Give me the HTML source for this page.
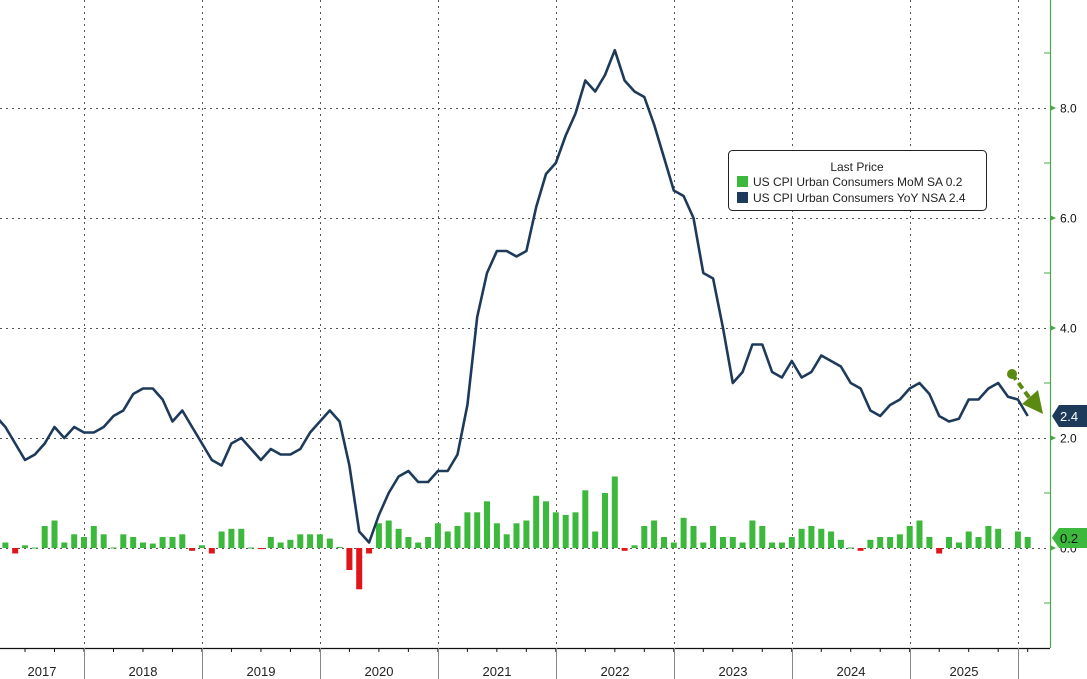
<!DOCTYPE html>
<html><head><meta charset="utf-8"><style>
html,body{margin:0;padding:0;background:#fff;}
svg{display:block;font-family:"Liberation Sans",sans-serif;}
</style></head><body>
<svg id="c" width="1087" height="679" viewBox="0 0 1087 679" xmlns="http://www.w3.org/2000/svg">
<rect width="1087" height="679" fill="#fff"/>
<g id="grid" stroke="#555" stroke-width="1" stroke-dasharray="2,4"></g>
<g id="bars"></g>
<g id="axes"></g>
<polyline id="line" fill="none" stroke="#1e3a5a" stroke-width="2.6" stroke-linejoin="round"/>
<!-- legend -->
<rect x="728.5" y="150.5" width="258" height="60" rx="4" fill="#fff" stroke="#222"/>
<text x="857" y="171" font-size="12" text-anchor="middle" fill="#222">Last Price</text>
<rect x="737" y="176" width="11" height="11" fill="#3cb83c"/>
<text x="753" y="186" font-size="12" fill="#222">US CPI Urban Consumers MoM SA  0.2</text>
<rect x="737" y="192" width="11" height="11" fill="#1e3a5a"/>
<text x="753" y="202" font-size="12" fill="#222">US CPI Urban Consumers YoY NSA 2.4</text>
<!-- annotation arrow -->
<line x1="1012" y1="374" x2="1031" y2="400" stroke="#5b8a12" stroke-width="4" stroke-dasharray="7,4"/>
<circle cx="1012" cy="374" r="5" fill="#5b8a12"/>
<polygon points="1022,404 1038,390 1043,414" fill="#5b8a12"/>
<!-- value tags -->
<polygon points="1052,416 1059,405 1087,405 1087,427 1059,427" fill="#1e3a5a"/>
<text x="1060" y="421" font-size="13" fill="#fff">2.4</text>
<polygon points="1052,538 1059,528 1087,528 1087,548 1059,548" fill="#3cb83c"/>
<text x="1060" y="543" font-size="13" fill="#111">0.2</text>
</svg>
<script>
const NS="http://www.w3.org/2000/svg";
function el(p,t,a,txt){const e=document.createElementNS(NS,t);for(const k in a)e.setAttribute(k,a[k]);if(txt!==undefined)e.textContent=txt;p.appendChild(e);return e;}
const Y=v=>548-v*55, X=k=>84+(k-11)*9.83;
const grid=document.getElementById('grid'),axes=document.getElementById('axes'),bars=document.getElementById('bars');
[8,6,4,2,0].forEach(v=>el(grid,'line',{x1:0,x2:1048,y1:Y(v)+.5,y2:Y(v)+.5}));
const div=[84,202,320,438,556,674,792,910,1018];
div.forEach(x=>el(grid,'line',{x1:x+.5,x2:x+.5,y1:0,y2:647}));
// yoy
const yoy=[2.5,2.7,2.4,2.2,1.9,1.6,1.7,1.9,2.2,2.0,2.2,2.1,
2.1,2.2,2.4,2.5,2.8,2.9,2.9,2.7,2.3,2.5,2.2,1.9,
1.6,1.5,1.9,2.0,1.8,1.6,1.8,1.7,1.7,1.8,2.1,2.3,
2.5,2.3,1.5,0.3,0.1,0.6,1.0,1.3,1.4,1.2,1.2,1.4,
1.4,1.7,2.6,4.2,5.0,5.4,5.4,5.3,5.4,6.2,6.8,7.0,
7.5,7.9,8.5,8.3,8.6,9.05,8.5,8.3,8.2,7.7,7.1,6.5,
6.4,6.0,5.0,4.9,4.0,3.0,3.2,3.7,3.7,3.2,3.1,3.4,
3.1,3.2,3.5,3.4,3.3,3.0,2.9,2.5,2.4,2.6,2.7,2.9,
3.0,2.8,2.4,2.3,2.35,2.7,2.7,2.9,3.0,2.75,2.7,2.4];
document.getElementById('line').setAttribute('points',yoy.map((v,k)=>X(k).toFixed(1)+','+Y(v).toFixed(1)).join(' '));
// mom
const mom={3:.1,4:-.1,5:.05,6:0.01,7:.4,8:.5,9:.1,10:.25,11:.2,12:.4,13:.25,14:.01,15:.25,16:.2,17:.1,18:.08,19:.2,20:.2,21:.25,22:-.05,23:.05,24:-.1,25:.3,26:.35,27:.35,28:.01,29:-.02,30:.2,31:.1,32:.15,33:.25,34:.25,35:.25,36:.17,37:.02,38:-.4,39:-.75,40:-.1,41:.45,42:.5,43:.35,44:.2,45:.1,46:.2,47:.45,48:.3,49:.4,50:.65,51:.65,52:.85,53:.45,54:.25,55:.45,56:.5,57:.95,58:.85,59:.65,60:.6,61:.65,62:1.05,63:.3,64:1.0,65:1.3,66:-.05,67:.05,68:.4,69:.5,70:.2,71:.1,72:.55,73:.4,74:.1,75:.4,76:.2,77:.2,78:.1,79:.5,80:.4,81:.1,82:.1,83:.2,84:.35,85:.4,86:.35,87:.3,88:.15,89:0.01,90:-.05,91:.15,92:.2,93:.2,94:.25,95:.4,96:.5,97:.2,98:-.1,99:.2,100:.1,101:.3,102:.2,103:.4,104:.35,106:.3,107:.2};
for(const k in mom){const v=mom[k],x=X(+k);const h=Math.abs(v)*55;
el(bars,'rect',{x:(x-3).toFixed(1),y:(v>=0?548-h:548).toFixed(1),width:6,height:Math.max(h,1).toFixed(1),fill:v>=0?'#3cb83c':'#e0151a'});}
// right axis
el(axes,'line',{x1:1050.5,x2:1050.5,y1:0,y2:648,stroke:'#4aa84a','stroke-width':1.2});
[8,6,4,2,0].forEach(v=>{const y=Y(v);
el(axes,'polygon',{points:`1050,${y-3} 1056,${y} 1050,${y+3}`,fill:'#4aa84a'});
el(axes,'text',{x:1060,y:y+4.5,'font-size':12,fill:'#111'},v.toFixed(1));});
[9,7,5,3,1,-1].forEach(v=>el(axes,'line',{x1:1044,x2:1050,y1:Y(v),y2:Y(v),stroke:'#4aa84a'}));
// bottom axis
el(axes,'line',{x1:0,x2:1050,y1:648.5,y2:648.5,stroke:'#111','stroke-width':1.2});
for(let k=-1;k<=108;k+=3){const x=84+(k-11)*9.83-9.83*0;if(x>0&&x<1045)el(axes,'line',{x1:x,x2:x,y1:648,y2:652,stroke:'#111'});}
div.forEach(x=>el(axes,'line',{x1:x+.5,x2:x+.5,y1:648,y2:679,stroke:'#888'}));
const labs=[[42,'2017'],[143,'2018'],[261,'2019'],[379,'2020'],[497,'2021'],[615,'2022'],[733,'2023'],[851,'2024'],[964,'2025']];
labs.forEach(([x,t])=>el(axes,'text',{x:x,y:676,'font-size':13,'text-anchor':'middle',fill:'#222'},t));
</script>
</body></html>
